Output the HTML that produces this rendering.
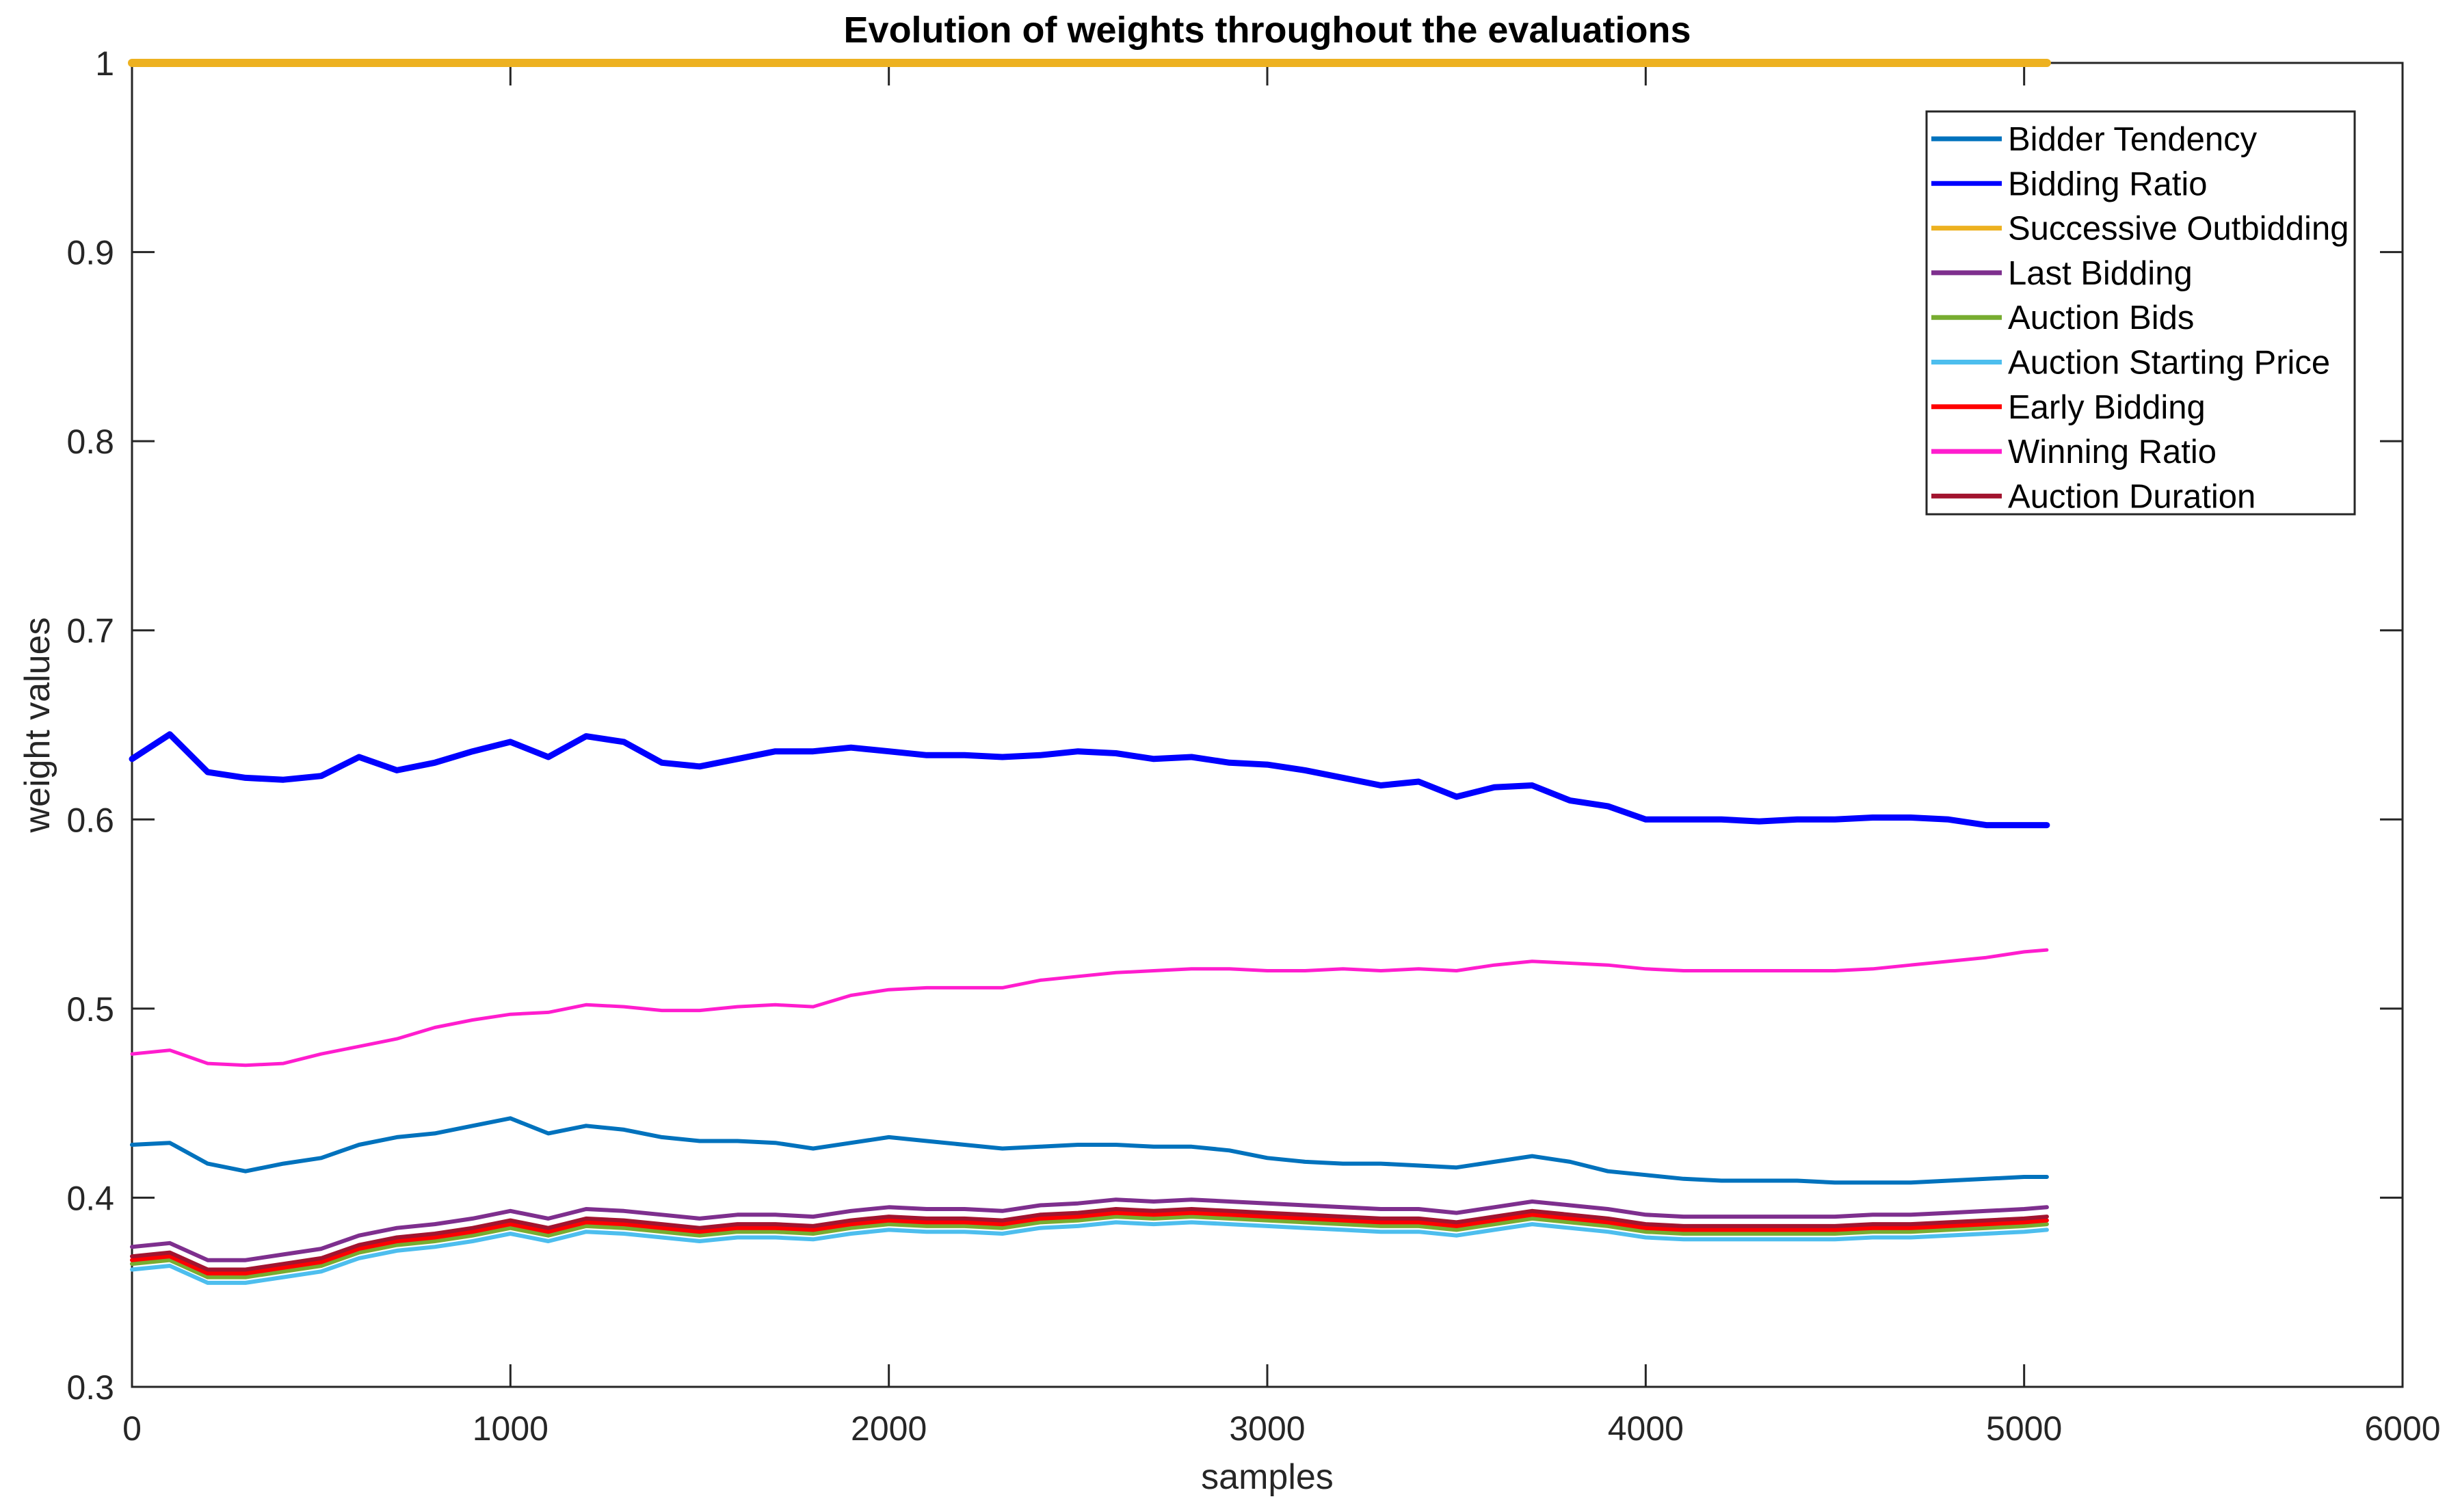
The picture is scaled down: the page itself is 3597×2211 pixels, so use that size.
<!DOCTYPE html>
<html><head><meta charset="utf-8"><style>
html,body{margin:0;padding:0;background:#fff;}
svg{display:block;font-family:"Liberation Sans",Arial,sans-serif;}
</style></head><body>
<svg id="chart" width="3597" height="2211" viewBox="0 0 3597 2211" xmlns="http://www.w3.org/2000/svg">
<rect width="3597" height="2211" fill="#fff"/>
<text x="1853" y="62" font-size="54" font-weight="bold" text-anchor="middle" fill="#000">Evolution of weights throughout the evaluations</text>
<text x="1853" y="2177" font-size="52" text-anchor="middle" fill="#262626">samples</text>
<text x="0" y="0" font-size="52" text-anchor="middle" fill="#262626" transform="translate(72,1060) rotate(-90)">weight values</text>
<g id="axes"></g>
<g id="series"></g>
<g id="legend"></g>
</svg>
<script>
const xSamples=[0,100,200,300,400,500,600,700,800,900,1000,1100,1200,1300,1400,1500,1600,1700,1800,1900,2000,2100,2200,2300,2400,2500,2600,2700,2800,2900,3000,3100,3200,3300,3400,3500,3600,3700,3800,3900,4000,4100,4200,4300,4400,4500,4600,4700,4800,4900,5000,5060];
const bidderTendency=[0.428,0.429,0.418,0.414,0.418,0.421,0.428,0.432,0.434,0.438,0.442,0.434,0.438,0.436,0.432,0.430,0.430,0.429,0.426,0.429,0.432,0.430,0.428,0.426,0.427,0.428,0.428,0.427,0.427,0.425,0.421,0.419,0.418,0.418,0.417,0.416,0.419,0.422,0.419,0.414,0.412,0.410,0.409,0.409,0.409,0.408,0.408,0.408,0.409,0.410,0.411,0.411];
const biddingRatio=[0.632,0.645,0.625,0.622,0.621,0.623,0.633,0.626,0.630,0.636,0.641,0.633,0.644,0.641,0.630,0.628,0.632,0.636,0.636,0.638,0.636,0.634,0.634,0.633,0.634,0.636,0.635,0.632,0.633,0.630,0.629,0.626,0.622,0.618,0.620,0.612,0.617,0.618,0.610,0.607,0.600,0.600,0.600,0.599,0.600,0.600,0.601,0.601,0.600,0.597,0.597,0.597];
const successiveOutbidding=[1,1,1,1,1,1,1,1,1,1,1,1,1,1,1,1,1,1,1,1,1,1,1,1,1,1,1,1,1,1,1,1,1,1,1,1,1,1,1,1,1,1,1,1,1,1,1,1,1,1,1,1];
const lastBidding=[0.374,0.376,0.367,0.367,0.370,0.373,0.380,0.384,0.386,0.389,0.393,0.389,0.394,0.393,0.391,0.389,0.391,0.391,0.390,0.393,0.395,0.394,0.394,0.393,0.396,0.397,0.399,0.398,0.399,0.398,0.397,0.396,0.395,0.394,0.394,0.392,0.395,0.398,0.396,0.394,0.391,0.390,0.390,0.390,0.390,0.390,0.391,0.391,0.392,0.393,0.394,0.395];
const auctionBids=[0.365,0.367,0.358,0.358,0.361,0.364,0.371,0.375,0.377,0.380,0.384,0.380,0.385,0.384,0.382,0.380,0.382,0.382,0.381,0.384,0.386,0.385,0.385,0.384,0.387,0.388,0.390,0.389,0.390,0.389,0.388,0.387,0.386,0.385,0.385,0.383,0.386,0.389,0.387,0.385,0.382,0.381,0.381,0.381,0.381,0.381,0.382,0.382,0.383,0.384,0.385,0.386];
const auctionStartingPrice=[0.362,0.364,0.355,0.355,0.358,0.361,0.368,0.372,0.374,0.377,0.381,0.377,0.382,0.381,0.379,0.377,0.379,0.379,0.378,0.381,0.383,0.382,0.382,0.381,0.384,0.385,0.387,0.386,0.387,0.386,0.385,0.384,0.383,0.382,0.382,0.380,0.383,0.386,0.384,0.382,0.379,0.378,0.378,0.378,0.378,0.378,0.379,0.379,0.380,0.381,0.382,0.383];
const earlyBidding=[0.367,0.369,0.360,0.360,0.363,0.366,0.373,0.377,0.379,0.382,0.386,0.382,0.387,0.386,0.384,0.382,0.384,0.384,0.383,0.386,0.388,0.387,0.387,0.386,0.389,0.390,0.392,0.391,0.392,0.391,0.390,0.389,0.388,0.387,0.387,0.385,0.388,0.391,0.389,0.387,0.384,0.383,0.383,0.383,0.383,0.383,0.384,0.384,0.385,0.386,0.387,0.388];
const winningRatio=[0.476,0.478,0.471,0.470,0.471,0.476,0.480,0.484,0.490,0.494,0.497,0.498,0.502,0.501,0.499,0.499,0.501,0.502,0.501,0.507,0.510,0.511,0.511,0.511,0.515,0.517,0.519,0.520,0.521,0.521,0.520,0.520,0.521,0.520,0.521,0.520,0.523,0.525,0.524,0.523,0.521,0.520,0.520,0.520,0.520,0.520,0.521,0.523,0.525,0.527,0.530,0.531];
const auctionDuration=[0.369,0.371,0.362,0.362,0.365,0.368,0.375,0.379,0.381,0.384,0.388,0.384,0.389,0.388,0.386,0.384,0.386,0.386,0.385,0.388,0.390,0.389,0.389,0.388,0.391,0.392,0.394,0.393,0.394,0.393,0.392,0.391,0.390,0.389,0.389,0.387,0.390,0.393,0.391,0.389,0.386,0.385,0.385,0.385,0.385,0.385,0.386,0.386,0.387,0.388,0.389,0.390];
const xTicks=[0,1000,2000,3000,4000,5000,6000];
const yTicks=[0.3,0.4,0.5,0.6,0.7,0.8,0.9,1];
const yTickLabels=["0.3","0.4","0.5","0.6","0.7","0.8","0.9","1"];

const L=193,R=3513,T=92,B=2028;
const xs=v=>L+(v-0)/(6000-0)*(R-L);
const ys=v=>B-(v-0.3)/(1-0.3)*(B-T);
const NS="http://www.w3.org/2000/svg";
function mk(tag,attrs,parent){const e=document.createElementNS(NS,tag);for(const k in attrs)e.setAttribute(k,attrs[k]);parent.appendChild(e);return e;}
const axes=document.getElementById('axes');
const box=mk('rect',{x:L,y:T,width:R-L,height:B-T,fill:'none',stroke:'#262626','stroke-width':3},axes);


xTicks.forEach(t=>{
  const x=xs(t);
  const tk=mk('path',{d:`M${x},${B}V${B-33}M${x},${T}V${T+33}`,stroke:'#262626','stroke-width':3},axes);
  
  
  const lb=mk('text',{x:x,y:2106,'font-size':50,'text-anchor':'middle',fill:'#262626'},axes);
  lb.textContent=String(t);
  
  
});
yTicks.forEach((t,i)=>{
  const y=ys(t);
  const tk=mk('path',{d:`M${L},${y}H${L+33}M${R},${y}H${R-33}`,stroke:'#262626','stroke-width':3},axes);
  
  
  const lb=mk('text',{x:167,y:y+18,'font-size':50,'text-anchor':'end',fill:'#262626'},axes);
  lb.textContent=yTickLabels[i];
  
  
});
const seriesList=[
 {name:'Bidder Tendency',vals:bidderTendency,color:'#0072BD',w:6,key:'bidder-tendency'},
 {name:'Bidding Ratio',vals:biddingRatio,color:'#0000FF',w:9,key:'bidding-ratio'},
 {name:'Successive Outbidding',vals:successiveOutbidding,color:'#EDB120',w:12,key:'successive-outbidding'},
 {name:'Last Bidding',vals:lastBidding,color:'#7E2F8E',w:6,key:'last-bidding'},
 {name:'Auction Bids',vals:auctionBids,color:'#77AC30',w:6,key:'auction-bids'},
 {name:'Auction Starting Price',vals:auctionStartingPrice,color:'#4DBEEE',w:6,key:'auction-starting-price'},
 {name:'Early Bidding',vals:earlyBidding,color:'#FF0000',w:6,key:'early-bidding'},
 {name:'Winning Ratio',vals:winningRatio,color:'#FF1DCE',w:5,key:'winning-ratio'},
 {name:'Auction Duration',vals:auctionDuration,color:'#A2142F',w:6,key:'auction-duration'}
];
const sg=document.getElementById('series');
const drawOrder=[5,4,6,8,3,0,7,1,2];
drawOrder.forEach(i=>{
  const s=seriesList[i];
  const n=Math.min(s.vals.length,xSamples.length);
  let d='';
  for(let k=0;k<n;k++)d+=(k?'L':'M')+xs(xSamples[k]).toFixed(1)+','+ys(s.vals[k]).toFixed(1);
  const p=mk('path',{d:d,fill:'none',stroke:s.color,'stroke-width':s.w,'stroke-linejoin':'round','stroke-linecap':'round'},sg);
  
  
});
const lg=document.getElementById('legend');
const lbox=mk('rect',{x:2817,y:163,width:626,height:589,fill:'#fff',stroke:'#262626','stroke-width':3},lg);


seriesList.forEach((s,i)=>{
  const y=203+i*65.3;
  const ln=mk('line',{x1:2824,x2:2927,y1:y,y2:y,stroke:s.color,'stroke-width':7},lg);
  
  
  const tx=mk('text',{x:2936,y:y+17,'font-size':49,fill:'#000'},lg);
  tx.textContent=s.name;
  
  
});
</script>
</body></html>
